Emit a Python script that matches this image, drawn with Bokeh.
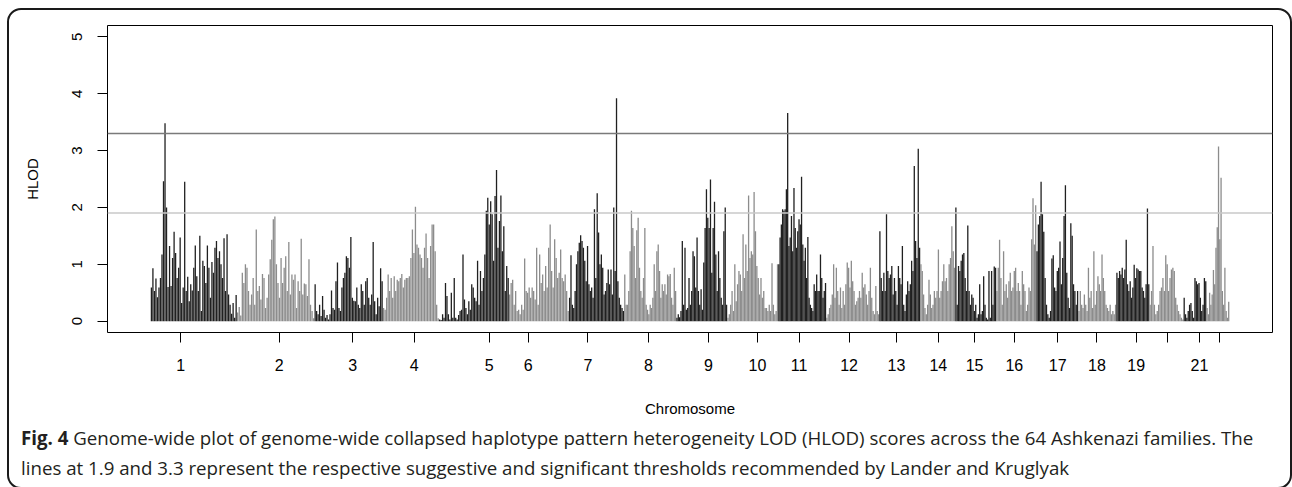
import math
from bokeh.plotting import figure
from bokeh.layouts import column
from bokeh.models import FixedTicker, Span, ColumnDataSource, Range1d, Div
from bokeh.embed import file_html
from bokeh.resources import INLINE

# ---------------- data ----------------
chromosomes = [str(i) for i in range(1, 23)]
chrom_length_cm = [286, 257, 227, 186, 232, 199, 183, 173, 169, 169, 159, 176,
                   136, 116, 136, 133, 139, 126, 110, 113, 76, 76]
chrom_tick_cm = [100, 426, 670, 874, 1123, 1252, 1450, 1651, 1850, 2012, 2150, 2316,
                 2473, 2612, 2732, 2864, 3008, 3138, 3268, 3371, 3478, 3545]
chrom_tick_labels = ["1", "2", "3", "4", "5", "6", "7", "8", "9", "10", "11", "12",
                     "13", "14", "15", "16", "17", "18", "19", "", "21", ""]

hlod_chr1 = [0.59, 0.93, 0.53, 0.75, 0.42, 0.59, 0.76, 1.17, 2.46, 3.48, 2.0, 0.6, 1.32, 0.62, 1.11,
             1.57, 1.2, 0.76, 0.94, 1.47, 0.32, 0.59, 2.45, 0.53, 0.78, 0.35, 0.65, 0.54, 0.94, 1.33,
             0.79, 0.53, 1.5, 0.18, 1.06, 0.97, 0.67, 1.33, 0.94, 0.41, 1.04, 0.85, 1.29, 1.41, 1.11,
             1.23, 1.0, 0.76, 1.46, 0.53, 1.53, 0.47, 0.29, 0.13, 0.32, 0.06, 0.46]
hlod_chr2 = [0.15, 0.25, 0.1, 0.85, 0.67, 1.0, 0.94, 0.53, 0.29, 0.47, 0.76, 0.29, 1.61, 0.53, 0.62,
             0.38, 0.83, 0.76, 0.23, 0.41, 0.82, 1.09, 1.43, 1.79, 1.84, 1.0, 0.67, 0.41, 1.11, 0.67,
             0.94, 1.14, 0.53, 1.39, 0.47, 0.82, 0.73, 0.82, 0.23, 0.70, 0.53, 1.45, 0.47, 0.66, 0.65,
             0.44, 1.09, 0.29, 0.18, 0.05]
hlod_chr3 = [0.65, 0.18, 0.12, 0.29, 0.09, 0.44, 0.2, 0.06, 0.11, 0.03, 0.12, 0.54, 0.23, 0.2, 0.7,
             1.03, 0.23, 0.18, 0.59, 0.76, 0.85, 1.14, 1.11, 0.94, 1.48, 0.41, 0.36, 0.35, 0.59, 0.29,
             0.23, 0.65, 0.53, 0.29, 0.7, 0.76, 0.41, 0.29, 0.47, 1.39, 0.35, 0.12, 0.41, 0.26, 0.93, 0.70]
hlod_chr4 = [0.23, 0.2, 0.41, 0.82, 0.53, 0.76, 0.41, 0.79, 0.53, 0.73, 0.7, 0.76, 0.83, 0.59, 0.73,
             0.76, 0.76, 0.79, 1.11, 1.61, 1.2, 2.01, 1.35, 1.29, 1.17, 1.11, 0.94, 1.29, 1.54, 1.11,
             0.76, 1.32, 1.7, 1.7, 1.23, 0.29, 0.05]
hlod_chr5 = [0.03, 0.02, 0.12, 0.06, 0.67, 0.44, 0.12, 0.03, 0.5, 0.06, 0.76, 0.06, 0.03, 0.11, 0.18,
             0.2, 1.17, 0.38, 0.23, 0.12, 0.35, 0.2, 0.65, 0.59, 0.41, 0.35, 1.06, 0.29, 0.88, 0.53,
             0.76, 1.17, 1.94, 2.17, 1.7, 2.11, 1.88, 1.06, 2.2, 2.66, 1.29, 1.76, 2.21, 1.23, 1.67,
             0.53, 0.97, 0.76]
hlod_chr6 = [0.47, 0.67, 0.73, 0.29, 0.53, 0.18, 0.2, 0.12, 0.29, 0.2, 1.1, 0.53, 0.5, 0.59, 0.41,
             0.59, 0.53, 0.38, 1.29, 0.29, 1.17, 0.67, 0.82, 0.53, 0.97, 0.59, 1.29, 1.7, 0.88, 0.59,
             1.44, 1.11, 0.76, 0.85, 1.26, 0.76, 0.70, 0.82, 0.53, 0.18]
hlod_chr7 = [0.41, 1.16, 0.29, 0.23, 0.53, 1.0, 1.23, 1.38, 1.51, 1.41, 1.29, 1.06, 0.7, 1.32, 0.65,
             0.53, 0.59, 0.41, 1.97, 0.76, 2.25, 1.56, 1.0, 1.17, 0.94, 0.47, 0.53, 0.67, 0.91, 0.65,
             0.91, 0.47, 2.0, 0.88, 3.92, 0.70, 0.41, 0.29, 0.23, 0.18]
hlod_chr8 = [0.82, 0.29, 0.29, 0.53, 1.23, 1.94, 1.64, 1.32, 0.76, 1.6, 1.82, 0.94, 0.53, 0.41, 0.76,
             1.64, 0.29, 0.2, 0.12, 0.29, 0.23, 0.41, 1.0, 0.53, 1.23, 1.35, 0.88, 0.41, 0.65, 0.53,
             0.65, 0.47, 0.82, 0.79, 0.83, 0.41, 0.29, 0.94, 0.53]
hlod_chr9 = [0.06, 0.12, 0.07, 0.18, 1.41, 0.29, 1.29, 0.2, 0.23, 0.76, 0.29, 0.53, 1.23, 1.14, 0.59,
             1.47, 0.53, 0.29, 0.56, 0.2, 1.03, 1.64, 2.32, 1.82, 1.64, 2.49, 0.85, 1.64, 2.1, 1.17,
             0.53, 1.23, 0.76, 0.41, 0.29, 1.58, 2.0, 0.29]
hlod_chr10 = [0.06, 0.12, 0.29, 0.53, 0.18, 1.0, 0.35, 0.65, 0.88, 0.82, 0.53, 1.53, 0.76, 1.35, 0.88,
              2.21, 1.11, 1.23, 1.17, 2.27, 1.58, 0.97, 0.76, 0.47, 0.76, 0.41, 0.53, 0.23, 0.23, 0.18,
              0.29, 0.18, 1.02, 0.29, 0.12, 0.18, 1.0]
hlod_chr11 = [1.0, 1.47, 1.7, 1.97, 1.94, 1.97, 2.32, 3.66, 1.32, 1.47, 1.85, 1.23, 2.34, 1.64, 1.29,
              1.58, 1.79, 1.7, 2.54, 1.35, 1.06, 1.29, 0.76, 1.48, 0.41, 0.29, 0.23, 0.18, 0.65, 0.53,
              0.82, 0.53, 0.53, 1.17, 0.76, 0.41, 0.53, 0.67]
hlod_chr12 = [0.06, 0.12, 0.23, 0.29, 0.47, 1.0, 0.41, 0.94, 0.53, 0.29, 0.59, 0.23, 0.53, 0.29, 0.65,
              1.03, 0.94, 0.59, 1.06, 0.70, 0.53, 0.29, 0.35, 0.41, 0.53, 0.41, 0.85, 0.59, 0.65, 0.47,
              0.29, 0.53, 0.94, 0.41, 0.18, 0.12, 0.62, 0.18, 0.12]
hlod_chr13 = [1.58, 0.76, 0.53, 0.85, 0.53, 1.88, 0.88, 0.76, 0.82, 0.97, 0.47, 0.76, 0.53, 0.29, 0.97,
              0.76, 0.65, 1.32, 0.29, 0.18, 0.47, 0.7, 0.53, 0.65, 1.06, 0.88, 2.73, 1.41, 1.11, 3.03, 1.29]
hlod_chr14 = [1.0, 0.88, 0.47, 0.23, 0.12, 0.29, 0.73, 0.47, 0.23, 0.29, 0.53, 0.41, 0.53, 1.26, 0.41,
              0.53, 0.70, 1.0, 0.7, 0.76, 0.53, 1.0, 1.11, 1.67, 1.23, 0.94]
hlod_chr15 = [2.0, 0.29, 0.97, 0.88, 1.06, 1.17, 1.2, 0.76, 0.53, 1.68, 0.53, 0.29, 0.47, 0.41, 0.18,
              0.29, 0.06, 0.12, 0.65, 0.12, 0.18, 0.79, 0.29, 0.06, 0.03, 0.88, 0.06, 0.88, 0.29, 0.96, 0.94]
hlod_chr16 = [0.53, 0.94, 1.43, 0.76, 0.29, 1.23, 0.53, 0.65, 0.41, 0.7, 0.85, 0.53, 0.59, 0.88, 0.94,
              0.53, 0.67, 0.53, 0.29, 0.88, 0.65, 0.53, 0.18, 0.29, 0.59, 0.53, 1.44, 2.16, 1.35, 2.04]
hlod_chr17 = [1.23, 1.7, 1.85, 2.45, 1.88, 1.57, 0.76, 0.29, 0.12, 0.06, 0.18, 1.1, 1.16, 0.59, 0.53,
              0.88, 0.94, 1.4, 0.65, 1.11, 1.85, 2.39, 0.85, 0.41, 0.23, 1.72, 1.5, 0.65, 0.53, 0.29, 0.53]
hlod_chr18 = [0.18, 0.53, 0.29, 0.23, 0.47, 0.29, 0.18, 0.94, 0.41, 0.53, 0.23, 1.23, 0.29, 0.53, 0.79,
              0.65, 0.53, 1.17, 0.76, 0.53, 0.29, 0.23, 0.18, 0.29, 0.12, 0.18, 0.12, 0.29]
hlod_chr19 = [0.85, 0.76, 0.88, 0.82, 0.94, 0.76, 0.91, 1.43, 0.65, 0.53, 0.7, 0.41, 0.59, 0.99, 0.76,
              0.93, 0.91, 0.88, 0.88, 0.59, 0.53, 0.41, 0.65, 1.98, 0.65]
hlod_chr20 = [0.29, 0.53, 1.32, 0.29, 0.12, 0.18, 0.29, 0.53, 0.59, 0.76, 0.53, 1.16, 1.0, 0.53, 0.76,
              0.91, 0.94, 0.88, 0.41, 0.29, 0.18, 0.12, 0.06, 0.03]
hlod_chr21 = [0.41, 0.12, 0.06, 0.18, 0.29, 0.32, 0.18, 0.06, 0.76, 0.7, 0.65, 0.67, 0.41, 0.18, 0.29,
              0.76, 0.7]
hlod_chr22 = [0.23, 0.12, 0.5, 0.29, 0.47, 0.9, 0.65, 1.29, 1.65, 3.07, 1.44, 2.52, 0.53, 0.29, 0.94,
              0.18, 0.06, 0.34]

hlod_by_chrom = [hlod_chr1, hlod_chr2, hlod_chr3, hlod_chr4, hlod_chr5, hlod_chr6, hlod_chr7,
                 hlod_chr8, hlod_chr9, hlod_chr10, hlod_chr11, hlod_chr12, hlod_chr13, hlod_chr14,
                 hlod_chr15, hlod_chr16, hlod_chr17, hlod_chr18, hlod_chr19, hlod_chr20, hlod_chr21,
                 hlod_chr22]

suggestive_threshold = 1.9
significant_threshold = 3.3

caption_bold = "Fig. 4"
caption_line1 = ("Genome-wide plot of genome-wide collapsed haplotype pattern heterogeneity LOD (HLOD) "
                 "scores across the 64 Ashkenazi families. The")
caption_line2 = ("lines at 1.9 and 3.3 represent the respective suggestive and significant thresholds "
                 "recommended by Lander and Kruglyak")

# ---------------- build ----------------
DARK = "#202020"
GRAY = "#8c8c8c"

xs, ys, cols = [], [], []
start = 0
for i, (length, vals) in enumerate(zip(chrom_length_cm, hlod_by_chrom)):
    step = length / len(vals)
    for j, v in enumerate(vals):
        xs.append(start + (j + 0.5) * step)
        ys.append(v)
        cols.append(DARK if i % 2 == 0 else GRAY)
    start += length
total = start

src = ColumnDataSource(dict(x=xs, y=ys, color=cols))

W = 1281
p = figure(width=W, height=413, output_backend="svg", toolbar_location=None,
           x_range=Range1d(-0.04 * total, 1.04 * total), y_range=Range1d(-0.2, 5.2),
           min_border_left=98, min_border_right=18, min_border_top=15, min_border_bottom=91,
           margin=0)
p.background_fill_color = "white"
p.border_fill_color = None
p.outline_line_color = "black"
p.outline_line_width = 1
p.xgrid.visible = False
p.ygrid.visible = False

p.segment(x0="x", y0=0, x1="x", y1="y", source=src, line_color="color", line_width=1.3,
          line_cap="butt")

p.add_layout(Span(location=significant_threshold, dimension="width", line_color="#7a7a7a",
                  line_width=1.5))
p.add_layout(Span(location=suggestive_threshold, dimension="width", line_color="#c8c8c8",
                  line_width=1.5))

FONT = "Liberation Sans"
for ax in (p.xaxis[0], p.yaxis[0]):
    ax.axis_line_color = None
    ax.major_tick_out = 10
    ax.major_tick_in = 0
    ax.major_tick_line_color = "black"
    ax.minor_tick_line_color = None
    ax.major_label_text_font = FONT
    ax.major_label_text_color = "black"
    ax.axis_label_text_font = FONT
    ax.axis_label_text_font_size = "15px"
    ax.axis_label_text_font_style = "normal"
    ax.axis_label_text_color = "black"

p.yaxis.ticker = FixedTicker(ticks=[0, 1, 2, 3, 4, 5])
p.yaxis.major_label_orientation = "parallel"
p.yaxis.major_label_text_font_size = "15px"
p.yaxis.major_label_standoff = 15
p.yaxis.axis_label = "HLOD"
p.yaxis.axis_label_standoff = 29

p.xaxis.ticker = FixedTicker(ticks=chrom_tick_cm)
p.xaxis.major_label_overrides = {t: lab for t, lab in zip(chrom_tick_cm, chrom_tick_labels)}
p.xaxis.major_label_text_font_size = "16px"
p.xaxis.major_label_standoff = 16
p.xaxis.axis_label = "Chromosome"
p.xaxis.axis_label_standoff = 26

caption = Div(
    text=('<div style="font-family:\'Open Sans\', sans-serif; font-size:18.7px; line-height:30px; '
          'color:#231f20; padding-left:12px; white-space:nowrap;">'
          f'<b>{caption_bold}</b> {caption_line1}<br>{caption_line2}</div>'),
    width=W, height=64, margin=0)

layout = column(p, caption, margin=(8, 0, 0, 7),
                styles={"border": "2px solid #1a1a1a", "border-radius": "14px",
                        "background": "white"})

html = file_html(layout, INLINE)
html = html.replace("</head>", "<style>html,body{margin:0;padding:0;overflow:hidden;background:white;}</style></head>")
open("out.html", "w").write(html)
